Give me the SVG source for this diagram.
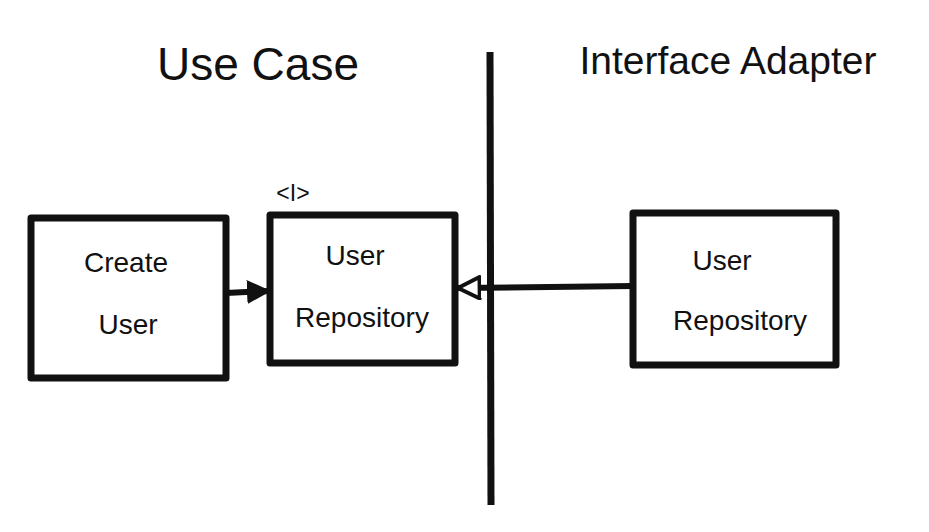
<svg xmlns="http://www.w3.org/2000/svg" width="929" height="532" viewBox="0 0 929 532">
<defs>
<style>
.box{fill:#fff;stroke:#111;stroke-width:7;stroke-linejoin:round}
.line{stroke:#111;stroke-width:6;fill:none}
.t{font-family:"Liberation Sans","DejaVu Sans",sans-serif;fill:#111;text-anchor:middle}
.title{font-size:46px}
.lbl{font-size:28px}
</style>
<marker id="filled" viewBox="0 0 12 12" refX="11" refY="6" markerWidth="4" markerHeight="4" orient="auto" markerUnits="strokeWidth">
<path d="M0,0 L12,6 L0,12 Z" fill="#111"/>
</marker>
<marker id="hollow" viewBox="0 0 14 14" refX="13" refY="7" markerWidth="4.2" markerHeight="4.2" orient="auto" markerUnits="strokeWidth">
<path d="M1,1 L13,7 L1,13 Z" fill="#fff" stroke="#111" stroke-width="2.2" stroke-linejoin="round"/>
</marker>
</defs>
<rect width="929" height="532" fill="#fff"/>
<g id="titles">
<text class="t title" x="258" y="80">Use Case</text>
<text class="t title" x="728" y="74" style="font-size:39px">Interface Adapter</text>
</g>
<g id="boundary">
<line class="line" x1="490" y1="52" x2="491" y2="505" style="stroke-width:7"/>
</g>
<g id="connectors">
<line class="line" x1="226" y1="293" x2="269" y2="291" marker-end="url(#filled)"/>
<line class="line" x1="633" y1="286" x2="458" y2="288" marker-end="url(#hollow)"/>
</g>
<g id="create-user">
<rect class="box" x="31" y="218" width="195" height="160"/>
<text class="t lbl" x="126" y="272">Create</text>
<text class="t lbl" x="128" y="334">User</text>
</g>
<g id="user-repository-interface">
<text class="t" x="293" y="201" style="font-size:23px">&lt;I&gt;</text>
<rect class="box" x="270" y="215" width="185" height="148"/>
<text class="t lbl" x="355" y="265">User</text>
<text class="t lbl" x="362" y="327">Repository</text>
</g>
<g id="user-repository-impl">
<rect class="box" x="633" y="213" width="203" height="152"/>
<text class="t lbl" x="722" y="270">User</text>
<text class="t lbl" x="740" y="330">Repository</text>
</g>
</svg>
